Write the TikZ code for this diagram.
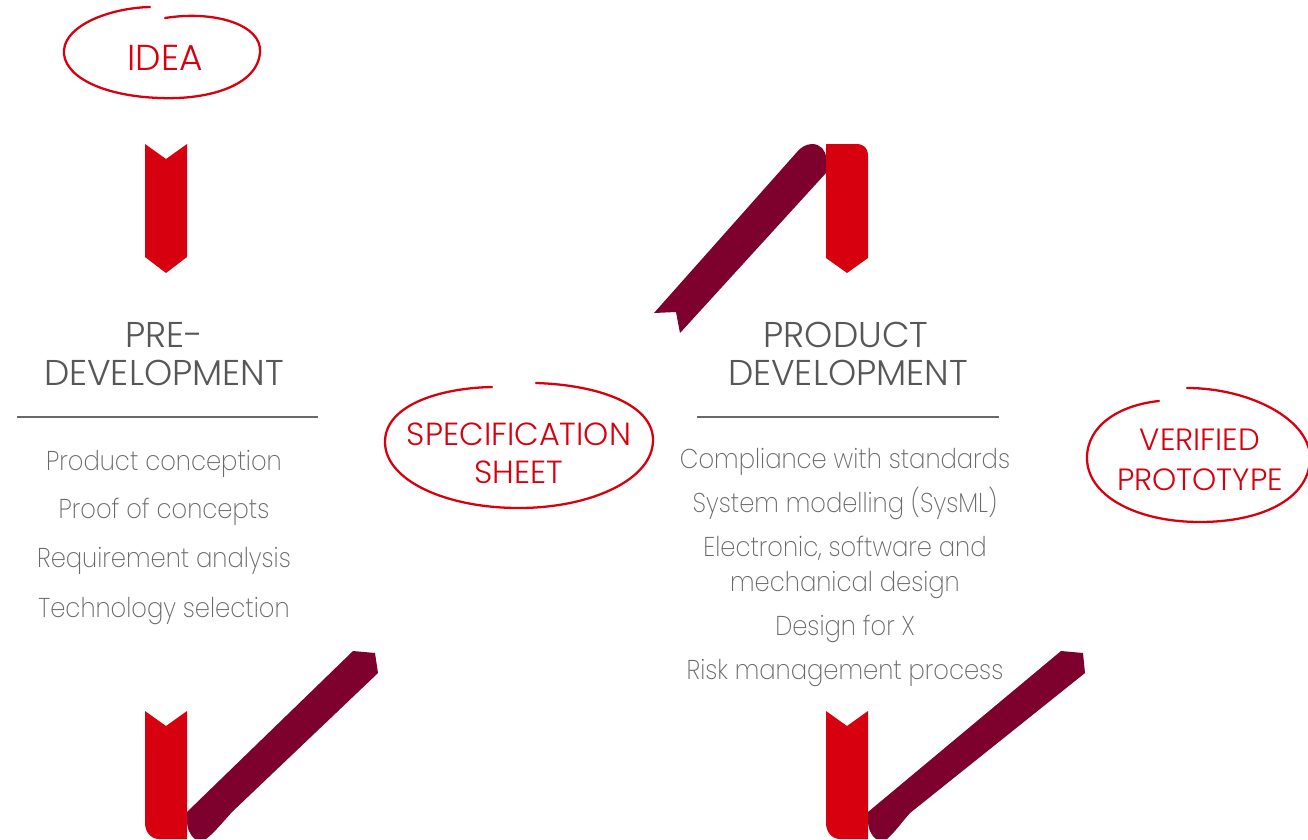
\documentclass[tikz,border=0pt]{standalone}
\usepackage{fontspec}
\setmainfont{Poppins Light}
\IfFontExistsTF{Poppins ExtraLight}
  {\newfontfamily\bodyfont{Poppins ExtraLight}[FakeStretch=0.89]}
  {\newfontfamily\bodyfont{Poppins Light}[FakeStretch=0.89]}
\definecolor{rred}{RGB}{215,0,15}
\definecolor{rdark}{RGB}{125,0,45}
\definecolor{hgray}{RGB}{87,87,87}
\definecolor{bgray}{RGB}{105,105,105}
\begin{document}
\begin{tikzpicture}[x=0.02cm,y=-0.02cm,
  hand/.style={draw=rred,line width=1.3pt,line cap=round},
  redfill/.style={fill=rred,draw=none},
  darkfill/.style={fill=rdark,draw=none},
  rlabel/.style={text=rred,anchor=base,inner sep=0pt,font=\fontsize{17.5}{20}\selectfont},
  head/.style={text=hgray,anchor=base,inner sep=0pt,font=\fontsize{20.4}{24}\selectfont},
  body/.style={text=bgray,anchor=base,inner sep=0pt,font=\bodyfont\fontsize{15.5}{19}\selectfont},
  rule/.style={draw=bgray,line width=1pt}]
\useasboundingbox (0,0) rectangle (1308,839);

% ---- IDEA
\draw[hand] (165,18) .. controls (215,10) and (262,25) .. (260,52) .. controls (258,85) and (210,100) .. (160,98) .. controls (100,96) and (62,75) .. (64,50) .. controls (66,25) and (110,8) .. (150,7);
\node[rlabel,font=\fontsize{20.5}{24}\selectfont] (idea) at (165,70) {IDEA};

% ---- top-left arrow
\fill[redfill] (145,144) -- (166,159) -- (187,144) -- (187,257) -- (166,273) -- (145,257) -- cycle;

% ---- top middle ribbon
\fill[redfill] (826,258) -- (847,273) -- (868,258) -- (868,156) .. controls (868,148) and (864,144) .. (856,144) -- (826,144) -- cycle;
\fill[darkfill] (654,313) -- (676,312) -- (680,333) -- (826,173) -- (826,158) .. controls (826,150) and (820,144) .. (812,144) .. controls (806,144) and (800,148) .. (797,152) -- cycle;

% ---- bottom-left ribbon
\fill[redfill] (145,711) -- (166,726) -- (187,711) -- (187,839) -- (159,839) .. controls (151,839) and (145,832) .. (145,823) -- cycle;
\fill[darkfill] (187,812) -- (353,651) -- (375,653) -- (378,673) -- (232,812) .. controls (222,823) and (214,833) .. (206,839) -- (195,839) .. controls (189,834) and (187,828) .. (187,820) -- cycle;

% ---- bottom-right ribbon
\fill[redfill] (826,711) -- (847,726) -- (868,711) -- (868,839) -- (840,839) .. controls (832,839) and (826,832) .. (826,823) -- cycle;
\fill[darkfill] (868,812) -- (1061,651) -- (1083,653) -- (1085,673) -- (910,813) .. controls (902,822) and (895,832) .. (887,839) -- (876,839) .. controls (870,834) and (868,828) .. (868,820) -- cycle;

% ---- left column
\node[head] (pre1) at (164,347) {PRE-};
\node[head] (pre2) at (164,385) {DEVELOPMENT};
\draw[rule] (17,417) -- (318,417);
\node[body] (l1) at (164,470) {Product conception};
\node[body] (l2) at (164,518) {Proof of concepts};
\node[body] (l3) at (164,567) {Requirement analysis};
\node[body] (l4) at (164,617) {Technology selection};

% ---- SPECIFICATION SHEET
\draw[hand] (536,383) .. controls (600,385) and (653,405) .. (653,440) .. controls (653,480) and (590,508) .. (519,508) .. controls (445,508) and (385,480) .. (385,442) .. controls (385,405) and (440,388) .. (492,387);
\node[rlabel,font=\fontsize{18.2}{22}\selectfont] (spec1) at (519,445) {SPECIFICATION};
\node[rlabel,font=\fontsize{18.2}{22}\selectfont] (spec2) at (519,483) {SHEET};

% ---- right column
\node[head] (pd1) at (846,347) {PRODUCT};
\node[head] (pd2) at (848,385) {DEVELOPMENT};
\draw[rule] (697,417) -- (999,417);
\node[body] (r1) at (845,468) {Compliance with standards};
\node[body] (r2) at (845,512) {System modelling (SysML)};
\node[body] (r3) at (845,556) {Electronic, software and};
\node[body] (r4) at (845,591) {mechanical design};
\node[body] (r5) at (845,635) {Design for X};
\node[body] (r6) at (845,679) {Risk management process};

% ---- VERIFIED PROTOTYPE
\draw[hand] (1187,388) .. controls (1250,388) and (1312,420) .. (1310,460) .. controls (1308,500) and (1260,522) .. (1200,522) .. controls (1135,522) and (1087,495) .. (1087,458) .. controls (1087,425) and (1120,405) .. (1159,401);
\node[rlabel] (ver1) at (1200,450) {VERIFIED};
\node[rlabel] (ver2) at (1200,490) {PROTOTYPE};
\end{tikzpicture}
\end{document}
